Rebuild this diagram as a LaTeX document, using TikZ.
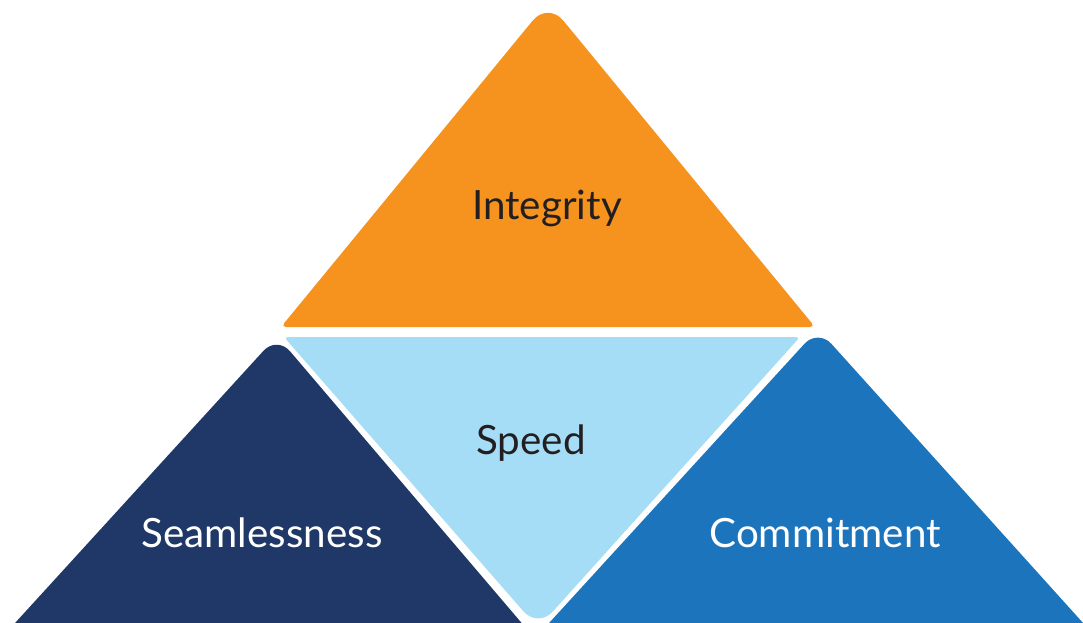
\documentclass[tikz,border=0pt]{standalone}
\usepackage{fontspec}
\setmainfont{Lato}
\usetikzlibrary{calc}
\definecolor{orangeT}{HTML}{F5931E}
\definecolor{lightT}{HTML}{A6DDF6}
\definecolor{navyT}{HTML}{1F3867}
\definecolor{blueT}{HTML}{1C75BC}
\definecolor{darkT}{HTML}{231F20}
\begin{document}
\begin{tikzpicture}[x=1bp,y=-1bp,
  lbl/.style={anchor=base,inner sep=0pt,font=\fontsize{40.5}{42}\selectfont}]
\useasboundingbox (0,0) rectangle (1083,623);
\clip (0,0) rectangle (1083,623);
% corner coordinates
\coordinate (oA) at (548,2);
\coordinate (oL) at (281,327);
\coordinate (oR) at (815,327);
\coordinate (sL) at (284,337);
\coordinate (sR) at (800,337);
\coordinate (sB) at (538,628);
\coordinate (nA) at (277,336);
\coordinate (nL) at (5,634);
\coordinate (nR) at (531,634);
\coordinate (bA) at (818,329);
\coordinate (bL) at (539,634);
\coordinate (bR) at (1093,634);
% orange
\fill[orangeT] ($(oL)!0.5!(oR)$) [rounded corners=5] -- (oR) [rounded corners=24] -- (oA) [rounded corners=5] -- (oL) -- cycle;
% speed
\fill[lightT] ($(sL)!0.5!(sR)$) [rounded corners=4] -- (sR) [rounded corners=22] -- (sB) [rounded corners=4] -- (sL) -- cycle;
% navy
\fill[navyT] ($(nL)!0.5!(nR)$) -- (nR) [rounded corners=20] -- (nA) [sharp corners] -- (nL) -- cycle;
% blue
\fill[blueT] ($(bL)!0.5!(bR)$) -- (bR) [rounded corners=20] -- (bA) [sharp corners] -- (bL) -- cycle;
% labels
\node[lbl,text=darkT] (integrity) at (547,220) {Integrity};
\node[lbl,text=darkT] (speed) at (531,454) {Speed};
\node[lbl,text=white] (seam) at (262,547) {Seamlessness};
\node[lbl,text=white] (commit) at (825,547) {Commitment};
\end{tikzpicture}
\end{document}
